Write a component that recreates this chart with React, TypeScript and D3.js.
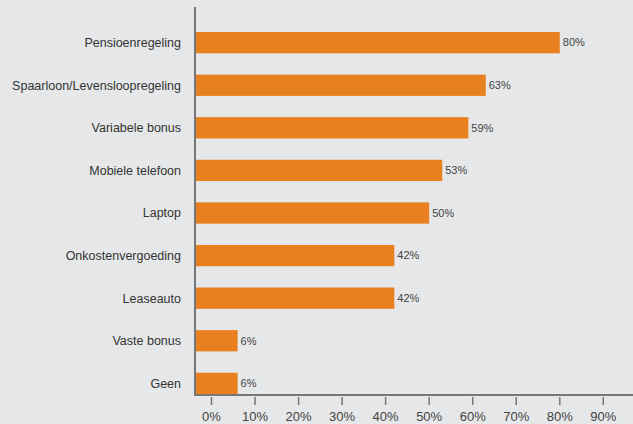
import React from "react";
import * as d3 from "d3";

const categories = [
  "Pensioenregeling",
  "Spaarloon/Levensloopregeling",
  "Variabele bonus",
  "Mobiele telefoon",
  "Laptop",
  "Onkostenvergoeding",
  "Leaseauto",
  "Vaste bonus",
  "Geen",
];
const values = [80, 63, 59, 53, 50, 42, 42, 6, 6];
const valueLabels = ["80%", "63%", "59%", "53%", "50%", "42%", "42%", "6%", "6%"];
const tickValues = [0, 10, 20, 30, 40, 50, 60, 70, 80, 90];

const W = 633;
const H = 424;
const axisX = 195;
const axisY = 395;

export default function App() {
  if (typeof document !== "undefined") document.body.style.margin = "0";
  const x = d3.scaleLinear().domain([0, 90]).range([211.5, 603.3]);
  const y = d3
    .scaleBand<string>()
    .domain(categories)
    .range([32, 394])
    .paddingInner(0.5)
    .paddingOuter(0);
  const font = "'Liberation Sans', Arial, Helvetica, sans-serif";
  return (
    <svg width={W} height={H} style={{ display: "block", background: "#e6e7e8" }}>
      <rect x={0} y={0} width={W} height={H} fill="#e6e7e8" />
      {categories.map((c, i) => (
        <g key={c}>
          <rect
            x={axisX}
            y={y(c)!}
            width={x(values[i]) - axisX}
            height={y.bandwidth()}
            fill="#e8801f"
          />
          <text
            x={x(values[i]) + 3}
            y={y(c)! + y.bandwidth() / 2}
            dy="0.35em"
            fontSize={11}
            fill="#444"
            fontFamily={font}
          >
            {valueLabels[i]}
          </text>
          <text
            x={181}
            y={y(c)! + y.bandwidth() / 2}
            dy="0.35em"
            textAnchor="end"
            fontSize={12.5}
            fill="#333"
            fontFamily={font}
          >
            {c}
          </text>
        </g>
      ))}
      <line x1={axisX} x2={axisX} y1={7} y2={axisY + 1} stroke="#777" strokeWidth={2} />
      <line x1={axisX} x2={W} y1={axisY} y2={axisY} stroke="#777" strokeWidth={2} />
      {tickValues.map((t) => (
        <g key={t}>
          <line x1={x(t)} x2={x(t)} y1={axisY + 2} y2={axisY + 10} stroke="#777" strokeWidth={1.5} />
          <text
            x={x(t)}
            y={416.5}
            dy="0.35em"
            textAnchor="middle"
            fontSize={13}
            fill="#444"
            fontFamily={font}
          >
            {t + "%"}
          </text>
        </g>
      ))}
    </svg>
  );
}
